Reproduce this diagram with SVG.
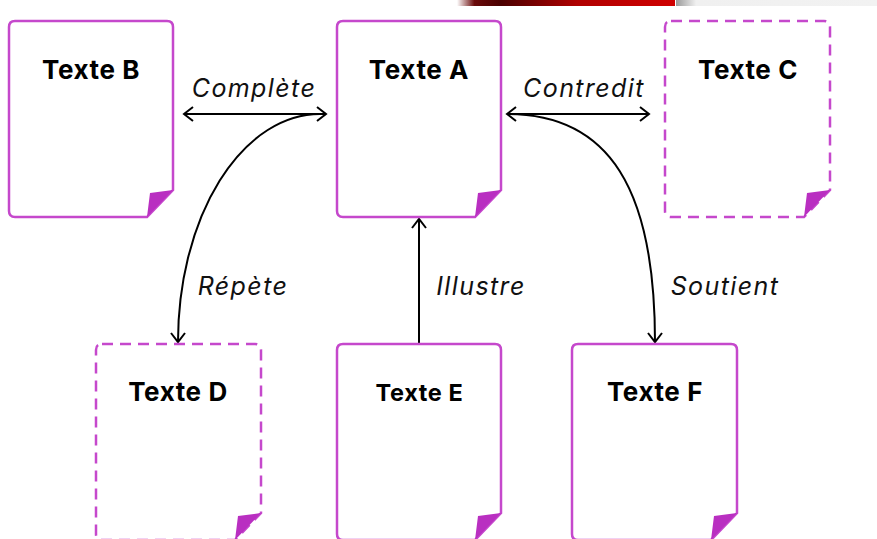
<svg xmlns="http://www.w3.org/2000/svg" width="877" height="539" viewBox="0 0 877 539">
<style>
.doc{fill:#fff;stroke:#c548cc;stroke-width:2.5}
.dash{stroke-dasharray:11 7}
.fold{fill:#b92fc1}
.t{font-family:Inter,"Liberation Sans",sans-serif;font-weight:bold;font-size:26px;letter-spacing:0.6px;fill:#000;text-anchor:middle}
.l{font-family:Inter,"DejaVu Sans",sans-serif;font-style:italic;font-size:25px;letter-spacing:1.4px;fill:#111;text-anchor:middle}
.c{fill:none;stroke:#000;stroke-width:2}
</style>
<defs>
<marker id="ah" viewBox="-12 -10 14 20" markerWidth="14" markerHeight="20" refX="0" refY="0" orient="auto-start-reverse" markerUnits="userSpaceOnUse">
<path d="M-9,-7 L0,0 L-9,7" fill="none" stroke="#000" stroke-width="2"/>
</marker>
<linearGradient id="red" x1="0" x2="1" y1="0" y2="0">
<stop offset="0" stop-color="#ffffff"/>
<stop offset="0.08" stop-color="#6a0a0a"/>
<stop offset="0.2" stop-color="#4a0000"/>
<stop offset="0.55" stop-color="#b00000"/>
<stop offset="1" stop-color="#d00000"/>
</linearGradient>
<linearGradient id="grey" x1="0" x2="1" y1="0" y2="0">
<stop offset="0" stop-color="#9a9a9a"/>
<stop offset="0.1" stop-color="#f0f0f0"/>
<stop offset="1" stop-color="#f2f2f2"/>
</linearGradient>
</defs>
<rect x="457" y="0" width="218" height="6" fill="url(#red)"/>
<rect x="676" y="0" width="201" height="6" fill="url(#grey)"/>

<g id="connectors">
<path class="c" d="M184,114 L326,114" marker-start="url(#ah)" marker-end="url(#ah)"/>
<path class="c" d="M507,114 L649,114" marker-start="url(#ah)" marker-end="url(#ah)"/>
<path class="c" d="M320,114 A142 228 0 0 0 178,342" marker-end="url(#ah)"/>
<path class="c" d="M507,114 C610,114 655,190 655,342" marker-end="url(#ah)"/>
<path class="c" d="M419,343 L419,219" marker-end="url(#ah)"/>
<text class="l" x="254" y="97">Complète</text>
<text class="l" x="584" y="97">Contredit</text>
<text class="l" x="243" y="295">Répète</text>
<text class="l" x="481" y="295">Illustre</text>
<text class="l" x="725" y="295">Soutient</text>
</g>

<g id="nodeB">
<path class="doc" d="M15,21 H167 Q173,21 173,27 V190 L147,217 H15 Q9,217 9,211 V27 Q9,21 15,21 Z"/>
<path class="fold" d="M147,217 L150,193 L173,190 Z"/>
<text class="t" x="91" y="79">Texte B</text>
</g>
<g id="nodeA">
<path class="doc" d="M343,21 H495 Q501,21 501,27 V190 L475,217 H343 Q337,217 337,211 V27 Q337,21 343,21 Z"/>
<path class="fold" d="M475,217 L478,193 L501,190 Z"/>
<text class="t" x="419" y="79">Texte A</text>
</g>
<g id="nodeC">
<path class="doc dash" d="M671,21 H824 Q830,21 830,27 V190 L804,217 H671 Q665,217 665,211 V27 Q665,21 671,21 Z"/>
<path class="fold" d="M804,217 L807,193 L830,190 Z"/>
<text class="t" x="748" y="79">Texte C</text>
</g>
<g id="nodeD">
<path class="doc dash" d="M102,344 H255 Q261,344 261,350 V513 L235,540 H102 Q96,540 96,534 V350 Q96,344 102,344 Z"/>
<path class="fold" d="M235,540 L238,516 L261,513 Z"/>
<text class="t" x="178" y="401">Texte D</text>
</g>
<g id="nodeE">
<path class="doc" d="M343,344 H495 Q501,344 501,350 V513 L475,540 H343 Q337,540 337,534 V350 Q337,344 343,344 Z"/>
<path class="fold" d="M475,540 L478,516 L501,513 Z"/>
<text class="t" x="419.5" y="401" style="font-size:23.5px">Texte E</text>
</g>
<g id="nodeF">
<path class="doc" d="M578,344 H731 Q737,344 737,350 V513 L711,540 H578 Q572,540 572,534 V350 Q572,344 578,344 Z"/>
<path class="fold" d="M711,540 L714,516 L737,513 Z"/>
<text class="t" x="655" y="401">Texte F</text>
</g>
</svg>
